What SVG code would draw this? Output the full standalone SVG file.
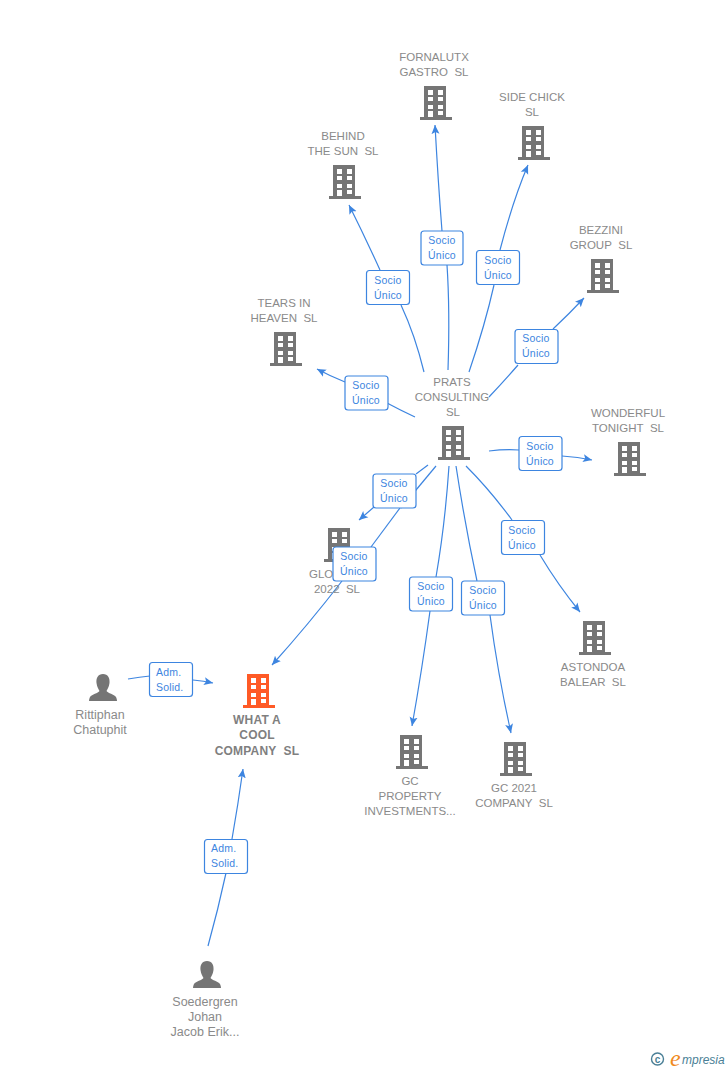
<svg xmlns="http://www.w3.org/2000/svg" width="728" height="1070" viewBox="0 0 728 1070">
<style>
text{font-family:"Liberation Sans",Arial,sans-serif}
.n{font-size:11.5px;fill:#8a8a8a;text-anchor:middle}
.np{font-size:12.5px;fill:#8a8a8a;text-anchor:middle}
.nb{font-size:12px;font-weight:bold;fill:#7f7f7f;text-anchor:middle;letter-spacing:.2px}
.l{font-size:10.5px;fill:#3d85e0;text-anchor:middle;letter-spacing:.2px}
.s{font-size:10.5px;fill:#3d85e0;letter-spacing:.2px}
.b{fill:#fff;stroke:#3d85e0;stroke-width:1.2}
.c{fill:none;stroke:#3d85e0;stroke-width:1.2;marker-end:url(#a)}
.c0{fill:none;stroke:#3d85e0;stroke-width:1.2}
</style>
<defs>
<marker id="a" markerUnits="userSpaceOnUse" markerWidth="12" markerHeight="12" refX="9" refY="5" orient="auto"><path d="M0 1L9 5L0 9L2 5Z" fill="#3d85e0"/></marker>
<g id="bld"><path fill-rule="evenodd" d="M4 0H26V31H32V34H0V31H4ZM8 4V9H13V4ZM18 4V9H23V4ZM8 11V15H13V11ZM18 11V15H23V11ZM8 19V23H13V19ZM18 19V23H23V19ZM8 25V31H13V25ZM18 25V29H23V25Z"/></g>
<g id="per"><path d="M16 1C21 1 23 5 22.500 10C22 14 20.500 16 19.500 18C21 20.500 27 21 29 24C30 26 30 28 30 28H2C2 28 2 26 3 24C5 21 11 20.500 12.500 18C11.500 16 10 14 9.500 10C9 5 11 1 16 1Z"/></g>
</defs>
<g id="connectors">
<path class="c0" d="M448 370Q450 310 447 265"/><path class="c" d="M442 231Q438 180 435 125"/>
<path class="c0" d="M469 372Q485 325 494 285"/><path class="c" d="M500 250Q513 200 528 165"/>
<path class="c0" d="M424 372Q415 335 401 305"/><path class="c" d="M380 270Q365 237 349 205"/>
<path class="c0" d="M489 397Q505 380 518 365"/><path class="c" d="M553 329Q570 313 584 298"/>
<path class="c0" d="M415 417Q400 410 387 403"/><path class="c" d="M345 382Q330 376 317 369"/>
<path class="c0" d="M489 451Q505 449 519 450"/><path class="c" d="M562 456Q578 457 592 460"/>
<path class="c0" d="M466 466Q490 490 512 520"/><path class="c" d="M540 555Q558 585 580 612"/>
<path class="c0" d="M456 466Q465 525 477 581"/><path class="c" d="M490 615Q498 675 511 733"/>
<path class="c0" d="M449 466Q445 525 436 577"/><path class="c" d="M430 611Q422 670 412 726"/>
<path class="c0" d="M428 465L416 474"/><path class="c" d="M374 507L359 520"/>
<path class="c0" d="M436 466L401 508"/><path class="c0" d="M400 508L371 547"/><path class="c" d="M342 581Q308 625 272 665"/>
<path class="c0" d="M128 679Q140 677 150 676"/><path class="c" d="M193 680Q204 681 213 683"/>
<path class="c0" d="M208 946Q218 910 226 873"/><path class="c" d="M232 839Q238 805 243 769"/>
</g>
<g id="node-fornalutx"><text class="n" x="434" y="61">FORNALUTX</text><text class="n" x="434" y="76">GASTRO&#160; SL</text><use href="#bld" x="420" y="86" fill="#757575"/></g>
<g id="node-sidechick"><text class="n" x="532" y="101">SIDE CHICK</text><text class="n" x="532" y="116">SL</text><use href="#bld" x="518" y="126" fill="#757575"/></g>
<g id="node-behind"><text class="n" x="343" y="140">BEHIND</text><text class="n" x="343" y="155">THE SUN&#160; SL</text><use href="#bld" x="329" y="165" fill="#757575"/></g>
<g id="node-bezzini"><text class="n" x="601" y="234">BEZZINI</text><text class="n" x="601" y="249">GROUP&#160; SL</text><use href="#bld" x="587" y="259" fill="#757575"/></g>
<g id="node-tears"><text class="n" x="284" y="307">TEARS IN</text><text class="n" x="284" y="322">HEAVEN&#160; SL</text><use href="#bld" x="270" y="332" fill="#757575"/></g>
<g id="node-prats"><text class="n" x="452" y="386">PRATS</text><text class="n" x="452" y="401">CONSULTING</text><text class="n" x="453" y="416">SL</text><use href="#bld" x="438" y="426" fill="#757575"/></g>
<g id="node-wonderful"><text class="n" x="628" y="417">WONDERFUL</text><text class="n" x="628" y="432">TONIGHT&#160; SL</text><use href="#bld" x="614" y="442" fill="#757575"/></g>
<g id="node-glo"><use href="#bld" x="324" y="528" fill="#757575"/><text class="n" x="309" y="578" style="text-anchor:start">GLO</text><text class="n" x="337" y="593">2022&#160; SL</text></g>
<g id="node-astondoa"><use href="#bld" x="579" y="621" fill="#757575"/><text class="n" x="593" y="671">ASTONDOA</text><text class="n" x="593" y="686">BALEAR&#160; SL</text></g>
<g id="node-gcprop"><use href="#bld" x="396" y="735" fill="#757575"/><text class="n" x="410" y="785">GC</text><text class="n" x="410" y="800">PROPERTY</text><text class="n" x="410" y="815">INVESTMENTS...</text></g>
<g id="node-gc2021"><use href="#bld" x="500" y="742" fill="#757575"/><text class="n" x="514" y="792">GC 2021</text><text class="n" x="514" y="807">COMPANY&#160; SL</text></g>
<g id="node-what"><use href="#bld" x="243" y="674" fill="#ff5a26"/><text class="nb" x="257" y="724">WHAT A</text><text class="nb" x="257" y="739">COOL</text><text class="nb" x="257" y="755">COMPANY&#160; SL</text></g>
<g id="node-rittiphan"><use href="#per" x="87" y="673" fill="#757575"/><text class="np" x="100" y="719">Rittiphan</text><text class="np" x="100" y="734">Chatuphit</text></g>
<g id="node-soedergren"><use href="#per" x="191" y="960" fill="#757575"/><text class="np" x="205" y="1006">Soedergren</text><text class="np" x="205" y="1021">Johan</text><text class="np" x="205" y="1036">Jacob Erik...</text></g>
<g id="labels">
<g><rect class="b" x="421" y="231" width="42" height="34" rx="3"/><text class="l" x="442" y="244">Socio</text><text class="l" x="442" y="259">Único</text></g>
<g><rect class="b" x="476.500" y="250.500" width="43" height="34" rx="3"/><text class="l" x="498" y="264">Socio</text><text class="l" x="498" y="279">Único</text></g>
<g><rect class="b" x="366.500" y="270.500" width="43" height="34" rx="3"/><text class="l" x="388" y="284">Socio</text><text class="l" x="388" y="299">Único</text></g>
<g><rect class="b" x="515" y="329.500" width="43" height="34" rx="3"/><text class="l" x="536" y="342">Socio</text><text class="l" x="536" y="357">Único</text></g>
<g><rect class="b" x="345" y="376" width="43" height="34" rx="3"/><text class="l" x="366" y="389">Socio</text><text class="l" x="366" y="404">Único</text></g>
<g><rect class="b" x="519" y="436.500" width="43" height="34" rx="3"/><text class="l" x="540" y="450">Socio</text><text class="l" x="540" y="465">Único</text></g>
<g><rect class="b" x="501.500" y="520.500" width="43" height="34" rx="3"/><text class="l" x="522" y="534">Socio</text><text class="l" x="522" y="549">Único</text></g>
<g><rect class="b" x="461.500" y="581" width="43" height="34" rx="3"/><text class="l" x="483" y="594">Socio</text><text class="l" x="483" y="609">Único</text></g>
<g><rect class="b" x="409.500" y="577" width="43" height="34" rx="3"/><text class="l" x="431" y="590">Socio</text><text class="l" x="431" y="605">Único</text></g>
<g><rect class="b" x="373" y="474" width="43" height="34" rx="3"/><text class="l" x="394" y="487">Socio</text><text class="l" x="394" y="502">Único</text></g>
<g><rect class="b" x="333" y="547" width="43" height="34" rx="3"/><text class="l" x="354" y="560">Socio</text><text class="l" x="354" y="575">Único</text></g>
<g><rect class="b" x="149.500" y="662.500" width="43" height="34" rx="3"/><text class="s" x="156" y="676">Adm.</text><text class="s" x="156" y="691">Solid.</text></g>
<g><rect class="b" x="204.500" y="839.500" width="43" height="34" rx="3"/><text class="s" x="211" y="852">Adm.</text><text class="s" x="211" y="867">Solid.</text></g>
</g>
<g id="brand"><circle cx="657.500" cy="1059" r="6" fill="none" stroke="#4a7f96" stroke-width="1.400"/><text x="657.500" y="1062.500" font-size="10" font-weight="bold" fill="#4a7f96" text-anchor="middle">c</text><text x="670" y="1066" font-size="24" font-style="italic" fill="#f08a1d" style="font-family:'Liberation Serif',serif">e</text><text x="682" y="1064" font-size="12" font-style="italic" fill="#4a7f96">mpresia</text></g>
</svg>
